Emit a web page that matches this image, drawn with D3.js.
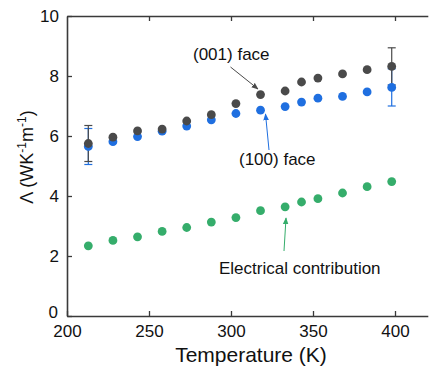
<!DOCTYPE html>
<html><head><meta charset="utf-8">
<script src="https://cdn.jsdelivr.net/npm/d3@7"></script>
<style>body{margin:0;background:#fff}svg{display:block}text{font-family:"Liberation Sans",Arial,sans-serif}</style>
</head><body><svg id="c" width="430" height="368"></svg>
<script>
const temps = [213,228,243,258,273,288,303,318,333,343,353,368,383,398];
const face001 = [5.75,5.96,6.17,6.23,6.5,6.71,7.08,7.38,7.5,7.8,7.93,8.07,8.21,8.32];
const face100 = [5.65,5.81,5.98,6.16,6.33,6.54,6.75,6.86,6.98,7.13,7.26,7.32,7.47,7.62];
const electrical = [2.34,2.52,2.64,2.82,2.95,3.13,3.28,3.51,3.64,3.8,3.91,4.1,4.31,4.48];
const errTemps = [213,398];
const err001 = [0.6,0.62];
const err100 = [0.6,0.62];
const xTicks = [200,250,300,350,400];
const yTicks = [0,2,4,6,8,10];

const svg = d3.select("#c");
const x = d3.scaleLinear().domain([200,420]).range([67,427.8]);
const y = d3.scaleLinear().domain([0,10]).range([316,16]);
const axisCol = "#3a3a3a";

function errBars(vals, errs, col){
  errTemps.forEach((t,i)=>{
    const v = vals[temps.indexOf(t)], e = errs[i];
    const g = svg.append("g").attr("stroke",col).attr("stroke-width",1.2);
    g.append("line").attr("x1",x(t)).attr("x2",x(t)).attr("y1",y(v-e)).attr("y2",y(v+e));
    [v-e,v+e].forEach(c=>g.append("line").attr("x1",x(t)-4).attr("x2",x(t)+4).attr("y1",y(c)).attr("y2",y(c)));
  });
}
errBars(face100, err100, "#1f6fe0");
errBars(face001, err001, "#4a4a4a");

function pts(vals,col){
  svg.append("g").selectAll("circle").data(vals).join("circle")
    .attr("cx",(d,i)=>x(temps[i])).attr("cy",d=>y(d)).attr("r",4.4).attr("fill",col);
}
pts(electrical,"#35ad6b");
pts(face100,"#1f6fe0");
pts(face001,"#4a4a4a");

// axes
const xb = svg.append("g").attr("transform","translate(0,316)")
  .call(d3.axisBottom(x).tickValues(xTicks).tickSizeInner(-5).tickSizeOuter(0).tickPadding(9));
const xt = svg.append("g").attr("transform","translate(0,16)")
  .call(d3.axisTop(x).tickValues(xTicks.slice(1)).tickSizeInner(-5).tickSizeOuter(0).tickFormat(""));
const yl = svg.append("g").attr("transform","translate(67,0)")
  .call(d3.axisLeft(y).tickValues(yTicks).tickSizeInner(-5).tickSizeOuter(0).tickPadding(8));
[xb,xt,yl].forEach(g=>{
  g.select(".domain").attr("stroke",axisCol).attr("stroke-width",1.6);
  g.selectAll(".tick line").attr("stroke",axisCol).attr("stroke-width",1.3);
  g.selectAll(".tick text").attr("fill","#111").style("font-size","17px").style("font-family","Liberation Sans, Arial, sans-serif");
});
xb.selectAll(".tick text").attr("dy","0.71em");
// nudge the "0" label slightly so it doesn't collide with "200"
yl.selectAll(".tick").filter(d=>d===0).select("text").attr("transform","translate(-1,-4)");

// axis titles
svg.append("text").attr("x",251).attr("y",362).attr("text-anchor","middle")
  .style("font-size","21px").attr("fill","#111").text("Temperature (K)");
const yt = svg.append("text").attr("transform","translate(33,157) rotate(-90)").attr("text-anchor","middle")
  .style("font-size","18px").attr("fill","#111");
yt.append("tspan").text("Λ (WK");
yt.append("tspan").attr("dy",-7).style("font-size","12px").text("-1");
yt.append("tspan").attr("dy",7).text("m");
yt.append("tspan").attr("dy",-7).style("font-size","12px").text("-1");
yt.append("tspan").attr("dy",7).text(")");

// annotations
const defs = svg.append("defs");
function marker(id,col){
  defs.append("marker").attr("id",id).attr("viewBox","0 0 10 10").attr("refX",9).attr("refY",5)
    .attr("markerWidth",7).attr("markerHeight",7).attr("orient","auto")
    .append("path").attr("d","M0,1 L10,5 L0,9 Z").attr("fill",col);
}
marker("ag","#4a4a4a"); marker("ab","#1f6fe0"); marker("ae","#35ad6b");
function ann(txt,tx,ty,x1,y1,x2,y2,col,mk){
  svg.append("text").attr("x",tx).attr("y",ty).style("font-size","17px").attr("fill","#111").text(txt);
  svg.append("line").attr("x1",x1).attr("y1",y1).attr("x2",x2).attr("y2",y2)
    .attr("stroke",col).attr("stroke-width",1).attr("marker-end",`url(#${mk})`);
}
ann("(001) face",193,60,230.5,67,258,89,"#4a4a4a","ag");
ann("(100) face",239,165,269,150,265.5,114,"#1f6fe0","ab");
ann("Electrical contribution",219,274,284,251,286,218,"#35ad6b","ae");
</script></body></html>
